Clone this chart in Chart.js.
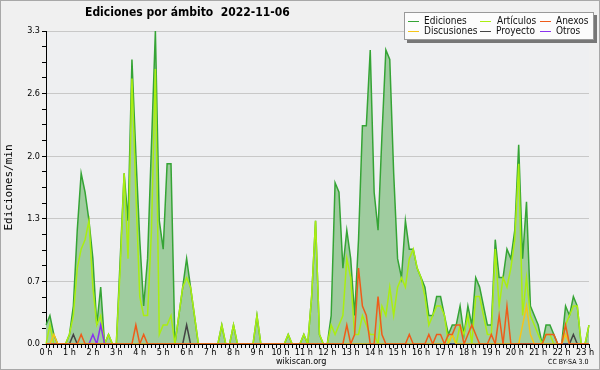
<!DOCTYPE html>
<html>
<head>
<meta charset="utf-8">
<script src="https://cdn.jsdelivr.net/npm/chart.js@4/dist/chart.umd.min.js"></script>
<style>
  body { margin: 0; background: #f0f0f0; }
  #wrap { position: relative; width: 600px; height: 370px; background: #f0f0f0; overflow: hidden; }
  #c { position: absolute; left: 0; top: 0; }
  #frame { position: absolute; left: 0; top: 0; width: 600px; height: 370px; box-sizing: border-box; border: 1px solid #a8a8a8; }
  .txt { position: absolute; font-family: "DejaVu Sans Condensed", "DejaVu Sans", sans-serif; color: #000; white-space: nowrap; }
  #title { left: 85px; top: 5px; font-size: 12px; font-weight: bold; }
  #legend { position: absolute; left: 404px; top: 12px; width: 188px; height: 26px; background: #fcfcfc; border: 1px solid #999; box-shadow: 3px 3px 0 #777; }
  .lg { position: absolute; font-family: "DejaVu Sans Condensed", "DejaVu Sans", sans-serif; font-size: 10px; line-height: 10px; color: #111; white-space: nowrap; }
  .sw { position: absolute; width: 11px; height: 1px; }
  #site { left: 276px; top: 356px; font-size: 9px; }
  #cc { left: 548px; top: 358px; font-size: 7px; }
</style>
</head>
<body>
<div id="wrap">
  <canvas id="c" width="600" height="370"></canvas>
  <div class="txt" id="title">Ediciones por ámbito&nbsp;&nbsp;2022-11-06</div>
  <div id="legend"></div>
  <div class="txt" id="site">wikiscan.org</div>
  <div class="txt" id="cc">CC BY-SA 3.0</div>
  <div id="frame"></div>
</div>
<script>
// 10-minute bins, 00:00 .. 23:10
const BIN_LABELS = [];
for (let i = 0; i < 140; i++) {
  const h = Math.floor(i / 6), m = (i % 6) * 10;
  BIN_LABELS.push(String(h).padStart(2, "0") + ":" + String(m).padStart(2, "0"));
}

const Y_MAJOR = [0, 0.66, 1.32, 1.98, 2.64, 3.3];

const EDICIONES = [
  0.2,0.3,0.1,0,0,0,0.1,0.4,1.2,1.8,1.6,1.3,
  0.9,0.2,0.6,0,0.1,0,0,0.9,1.8,1.3,3.0,2.0,
  1.1,0.4,0.9,2.1,3.3,1.3,1.0,1.9,1.9,0,0.3,0.6,
  0.9,0.6,0.3,0,0,0,0,0,0,0.2,0,0,
  0.2,0,0,0,0,0,0.3,0,0,0,0,0,
  0,0,0.1,0,0,0,0.1,0,0.5,1.3,0.1,0,
  0,0.3,1.7,1.6,0.8,1.2,0.9,0.3,1.1,2.3,2.3,3.1,
  1.6,1.2,2.2,3.1,3.0,1.8,0.9,0.7,1.3,1.0,1.0,0.8,
  0.7,0.6,0.3,0.3,0.5,0.5,0.3,0.1,0.2,0.2,0.4,0.1,
  0.4,0.2,0.7,0.6,0.4,0.2,0.2,1.1,0.7,0.7,1.0,0.9,
  1.2,2.1,0.9,1.5,0.4,0.3,0.2,0,0.2,0.2,0.1,0,
  0,0.4,0.3,0.5,0.4,0,0,0.2
];

const ARTICULOS = [
  0,0.2,0,0,0,0,0.1,0.3,0.8,1.0,1.1,1.3,
  0.6,0.2,0.3,0,0.1,0,0,0.8,1.8,0.9,2.8,1.6,
  0.5,0.3,0.3,1.2,2.9,0.1,0.2,0.2,0.3,0,0.3,0.6,
  0.7,0.6,0.3,0,0,0,0,0,0,0.2,0,0,
  0.2,0,0,0,0,0,0.3,0,0,0,0,0,
  0,0,0.1,0,0,0,0.1,0,0.5,1.3,0.1,0,
  0,0.2,0.1,0.2,0.3,0.9,0.7,0.1,0.1,0.3,0.2,0.1,
  0.1,0,0.4,0.3,0.6,0.3,0.6,0.7,0.6,0.9,1.0,0.8,
  0.7,0.5,0.2,0.3,0.4,0.4,0.3,0,0.1,0,0.2,0.1,
  0.3,0,0.5,0.5,0.3,0.1,0.1,1.0,0.4,0.7,0.6,0.8,
  1.1,1.9,0.3,0.7,0.3,0.2,0.1,0,0.1,0.1,0,0,
  0,0.2,0.3,0.4,0.4,0,0,0.2
];

const ANEXOS = [
  0,0,0,0,0,0,0,0,0,0.1,0,0,
  0,0,0,0,0,0,0,0,0,0,0,0.2,
  0,0.1,0,0,0,0,0,0,0,0,0,0,
  0,0,0,0,0,0,0,0,0,0,0,0,
  0,0,0,0,0,0,0,0,0,0,0,0,
  0,0,0,0,0,0,0,0,0,0,0,0,
  0,0,0,0,0,0.2,0,0.1,0.8,0.4,0.3,0,
  0,0.5,0.1,0,0,0,0,0,0,0.1,0,0,
  0,0,0.1,0,0.1,0.1,0,0.1,0.1,0.2,0.2,0,
  0.1,0.2,0.1,0,0,0,0.1,0,0.3,0,0.4,0,
  0,0,0,0,0,0,0,0,0.1,0.1,0.1,0,
  0,0.2,0,0,0,0,0,0
];

const DISCUSIONES = [
  0,0,0.1,0,0,0,0,0,0,0,0,0,
  0,0,0,0,0,0,0,0,0,0,0,0,
  0,0,0,0,0,0,0,0,0,0,0,0,
  0,0,0,0,0,0,0,0,0,0,0,0,
  0,0,0,0,0,0,0,0,0,0,0,0,
  0,0,0,0,0,0,0,0,0,0,0,0,
  0,0,0,0,0,0,0,0,0,0,0,0,
  0,0,0,0,0,0,0,0,0,0,0,0,
  0,0,0,0,0,0,0,0,0.1,0,0,0,
  0,0,0,0,0,0,0,0,0,0,0,0,
  0,0,0.2,0.4,0.1,0,0,0,0,0,0,0,
  0,0.1,0,0,0,0,0,0
];

const PROYECTO = [
  0,0,0,0,0,0,0,0.1,0,0,0,0,
  0,0,0,0,0,0,0,0,0,0,0,0,
  0,0,0,0,0,0,0,0,0,0,0,0,
  0.2,0,0,0,0,0,0,0,0,0,0,0,
  0,0,0,0,0,0,0,0,0,0,0,0,
  0,0,0,0,0,0,0,0,0,0,0,0,
  0,0,0,0,0,0,0,0,0,0,0,0,
  0,0,0,0,0,0,0,0,0,0,0,0,
  0,0,0,0,0,0,0,0,0,0,0,0,
  0,0,0,0,0,0,0,0,0,0,0,0,
  0,0,0,0,0,0,0,0,0,0,0,0,
  0,0,0,0.1,0,0,0,0
];

const OTROS = [
  0,0,0,0,0,0,0,0,0,0,0,0,
  0.1,0,0.2,0,0,0,0,0,0,0,0,0,
  0,0,0,0,0,0,0,0,0,0,0,0,
  0,0,0,0,0,0,0,0,0,0,0,0,
  0,0,0,0,0,0,0,0,0,0,0,0,
  0,0,0,0,0,0,0,0,0,0,0,0,
  0,0,0,0,0,0,0,0,0,0,0,0,
  0,0,0,0,0,0,0,0,0,0,0,0,
  0,0,0,0,0,0,0,0,0,0,0,0,
  0,0,0,0,0,0,0,0,0,0,0,0,
  0,0,0,0,0,0,0,0,0,0,0,0,
  0,0,0,0,0,0,0,0
];

const SERIES_META = [
  { label: "Ediciones",   data: EDICIONES,   color: "#35a435", order: 6, fill: true },
  { label: "Artículos",   data: ARTICULOS,   color: "#aaee11", order: 5 },
  { label: "Anexos",      data: ANEXOS,      color: "#ee5c1a", order: 1 },
  { label: "Discusiones", data: DISCUSIONES, color: "#f5c518", order: 2 },
  { label: "Proyecto",    data: PROYECTO,    color: "#444444", order: 3 },
  { label: "Otros",       data: OTROS,       color: "#8a33ee", order: 4 }
];

// legend, laid out like the original (3 columns x 2 rows)
const LEGEND_SLOTS = [
  { name: "Ediciones",   sx: 3,  tx: 19, ty: 3 },
  { name: "Artículos",   sx: 75, tx: 92, ty: 3 },
  { name: "Anexos",      sx: 135, tx: 151, ty: 3 },
  { name: "Discusiones", sx: 3,  tx: 19, ty: 13 },
  { name: "Proyecto",    sx: 75, tx: 91, ty: 13 },
  { name: "Otros",       sx: 135, tx: 151, ty: 13 }
];
const legendBox = document.getElementById("legend");
LEGEND_SLOTS.forEach(s => {
  const meta = SERIES_META.find(m => m.label === s.name);
  const sw = document.createElement("div");
  sw.className = "sw";
  sw.style.left = s.sx + "px";
  sw.style.top = (s.ty + 5) + "px";
  sw.style.background = meta.color;
  legendBox.appendChild(sw);
  const t = document.createElement("div");
  t.className = "lg";
  t.style.left = s.tx + "px";
  t.style.top = s.ty + "px";
  t.textContent = s.name;
  legendBox.appendChild(t);
});

const plotBg = {
  id: "plotBg",
  beforeDraw(chart){
    const a = chart.chartArea;
    const c = chart.ctx;
    c.save();
    c.fillStyle = "#eeeff1";
    c.fillRect(a.left, a.top, a.right - a.left, a.bottom - a.top);
    c.restore();
  }
};

const tickFont = { family: "DejaVu Sans Condensed", size: 9 };

new Chart(document.getElementById("c"), {
  type: "line",
  data: {
    labels: BIN_LABELS,
    datasets: SERIES_META.map(m => ({
      label: m.label,
      data: m.data,
      borderColor: m.color,
      backgroundColor: m.fill ? "#9fcc9f" : m.color,
      fill: m.fill ? "origin" : false,
      borderWidth: 1.5,
      order: m.order
    }))
  },
  options: {
    responsive: false,
    animation: false,
    layout: { padding: { top: 31, right: 11, left: 0, bottom: 0 } },
    elements: { point: { radius: 0 }, line: { tension: 0 } },
    plugins: { legend: { display: false }, tooltip: { enabled: false } },
    scales: {
      x: {
        type: "category",
        offset: false,
        z: 1,
        grid: { drawOnChartArea: false, tickLength: 4, tickColor: "#000" },
        border: { color: "#000", width: 1 },
        ticks: {
          autoSkip: false,
          maxRotation: 0,
          minRotation: 0,
          padding: -1,
          color: "#000",
          font: tickFont,
          callback: (v, i) => (i % 6 === 0 ? (i / 6) + " h" : "")
        },
        afterFit: s => { s.height = 26; }
      },
      y: {
        min: 0,
        max: 3.3,
        afterBuildTicks: s => {
          const t = [];
          for (let k = 0; k < Y_MAJOR.length - 1; k++) {
            const a = Y_MAJOR[k], b = Y_MAJOR[k + 1];
            for (let j = 0; j < 4; j++) t.push({ value: a + (b - a) * j / 4, major: j === 0 });
          }
          t.push({ value: 3.3, major: true });
          s.ticks = t;
        },
        grid: {
          tickLength: 4,
          tickColor: "#000",
          color: c => (c.tick && c.tick.major ? "#c8c8c8" : "rgba(0,0,0,0)"),
          lineWidth: 1
        },
        border: { color: "#000", width: 1 },
        ticks: {
          padding: 2,
          color: "#000",
          font: tickFont,
          callback: function(v, i, ticks){ return ticks[i].major ? Number(v).toFixed(1) : ""; }
        },
        title: {
          display: true,
          text: "Ediciones/min",
          color: "#000",
          font: { family: "DejaVu Sans Mono", size: 11 },
          padding: { top: 3, bottom: 0 }
        },
        afterFit: s => { s.width = 46; }
      }
    }
  },
  plugins: [plotBg]
});
</script>
</body>
</html>
